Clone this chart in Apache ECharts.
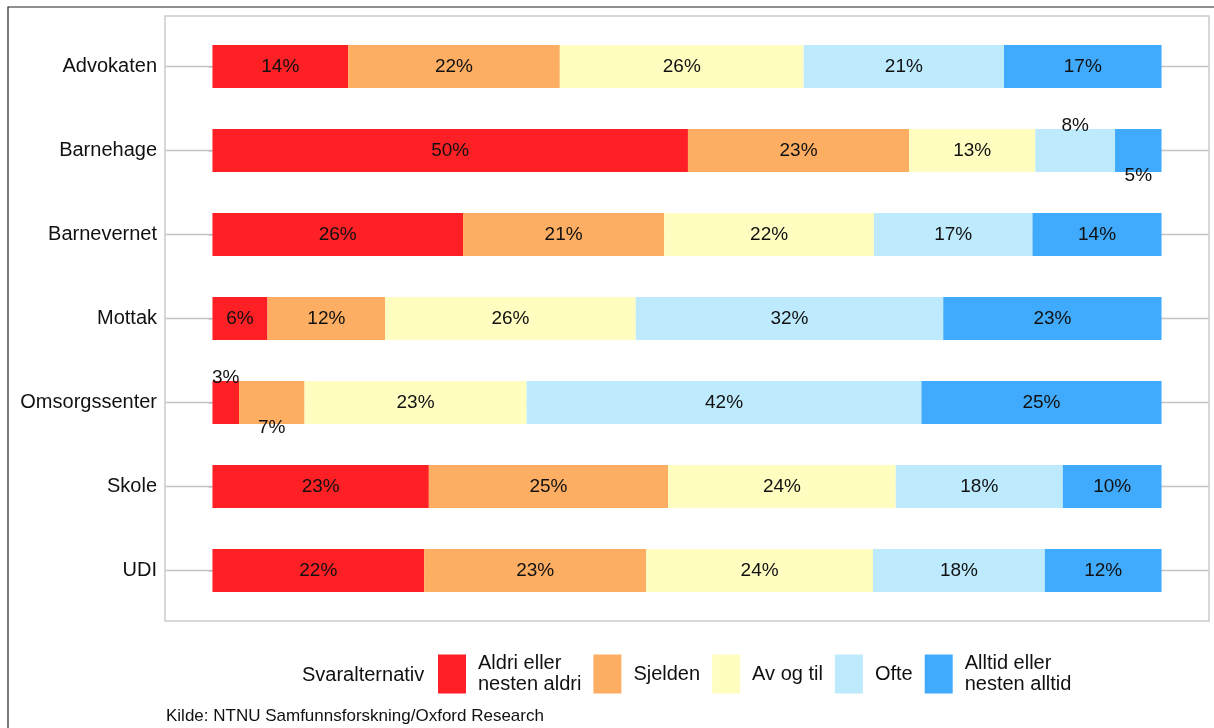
<!DOCTYPE html>
<html>
<head>
<meta charset="utf-8">
<script src="https://cdn.jsdelivr.net/npm/echarts@6/dist/echarts.min.js"></script>
<style>
html,body{margin:0;padding:0;background:#fff;}
#chart{width:1214px;height:728px;}
</style>
</head>
<body>
<div id="chart"></div>
<script>
// ---- data ----
const categories = ['Advokaten', 'Barnehage', 'Barnevernet', 'Mottak', 'Omsorgssenter', 'Skole', 'UDI'];
const seriesNames = ['Aldri eller\nnesten aldri', 'Sjelden', 'Av og til', 'Ofte', 'Alltid eller\nnesten alltid'];
const aldri   = [14.3, 50.1, 26.4,  5.8,  2.8, 22.8, 22.3];
const sjelden = [22.3, 23.3, 21.2, 12.4,  6.9, 25.2, 23.4];
const avogtil = [25.7, 13.3, 22.1, 26.4, 23.4, 24.0, 23.9];
const ofte    = [21.1,  8.4, 16.7, 32.4, 41.6, 17.6, 18.1];
const alltid  = [16.6,  4.9, 13.6, 23.0, 25.3, 10.4, 12.3];
const legendTitle = 'Svaralternativ';
const caption = 'Kilde: NTNU Samfunnsforskning/Oxford Research';

// ---- styling / layout ----
const FONT = 'Liberation Sans, Arial, sans-serif';
const colors = ['#FF2026', '#FEAE62', '#FFFEC0', '#BDEBFD', '#40AAFD'];
const valueSets = [aldri, sjelden, avogtil, ofte, alltid];
// labels that are moved off small segments (-1 above, +1 below)
const nudge = { 'Barnehage': { 3: -1, 4: 1 }, 'Omsorgssenter': { 0: -1, 1: 1 } };

const panel = { left: 165, top: 16, width: 1044, height: 605 };
const band = panel.height / 7.2;
const gridTop = panel.top + 0.1 * band;
const gridHeight = 7 * band;

const series = valueSets.map((vals, si) => ({
  name: seriesNames[si],
  type: 'bar',
  stack: 'total',
  barWidth: 43,
  z: 5,
  itemStyle: { color: colors[si] },
  label: {
    show: true,
    position: 'inside',
    color: '#111',
    fontSize: 19,
    fontFamily: FONT,
    formatter: p => Math.round(p.value) + '%'
  },
  data: vals.map((v, ci) => {
    const n = nudge[categories[ci]] && nudge[categories[ci]][si];
    if (n) return { value: v, label: { offset: [0, n * 25] } };
    return v;
  })
}));

const chart = echarts.init(document.getElementById('chart'), null, { renderer: 'canvas' });
chart.setOption({
  animation: false,
  backgroundColor: '#fff',
  textStyle: { fontFamily: FONT },
  grid: { left: panel.left, top: gridTop, width: panel.width, height: gridHeight, containLabel: false },
  xAxis: { type: 'value', min: -5, max: 105, show: false },
  yAxis: {
    type: 'category', data: categories, inverse: true, position: 'left',
    axisLine: { show: false },
    axisTick: { show: true, inside: false, alignWithLabel: true, length: 4,
                lineStyle: { color: '#c2c2c2', width: 1.5 } },
    axisLabel: { fontSize: 20, color: '#111', margin: 8, fontFamily: FONT },
    splitLine: { show: false }
  },
  legend: {
    left: 438, top: 653, padding: 0,
    orient: 'horizontal',
    icon: 'rect',
    itemWidth: 28, itemHeight: 39, itemGap: 12,
    data: seriesNames,
    textStyle: { fontSize: 20, lineHeight: 21, color: '#111', padding: [0, 0, 0, 7], fontFamily: FONT }
  },
  series: series
});

// horizontal guide lines at each category centre, placed through the axes' scales
const xStart = chart.convertToPixel({ xAxisIndex: 0 }, -5);
const xEnd = chart.convertToPixel({ xAxisIndex: 0 }, 105);
const gridLines = categories.map((c, i) => {
  const y = chart.convertToPixel({ yAxisIndex: 0 }, c);
  return { type: 'line', id: 'gl' + i, z: 0, silent: true,
           shape: { x1: xStart, y1: y, x2: xEnd, y2: y },
           style: { stroke: '#c2c2c2', lineWidth: 1.5 } };
});

chart.setOption({
  graphic: gridLines.concat([
    { type: 'rect', id: 'panel', z: 100, silent: true,
      shape: { x: panel.left, y: panel.top, width: panel.width, height: panel.height },
      style: { fill: null, stroke: '#cccccc', lineWidth: 1.5 } },
    { type: 'rect', id: 'outer', z: 100, silent: true,
      shape: { x: 8, y: 7, width: 1230, height: 740 },
      style: { fill: null, stroke: '#222', lineWidth: 1.2 } },
    { type: 'text', id: 'ltitle', left: 302, top: 665, silent: true,
      style: { text: legendTitle, fontSize: 20, fill: '#111', fontFamily: FONT } },
    { type: 'text', id: 'caption', left: 166, top: 708, silent: true,
      style: { text: caption, fontSize: 17, fill: '#111', fontFamily: FONT } }
  ])
});
</script>
</body>
</html>
